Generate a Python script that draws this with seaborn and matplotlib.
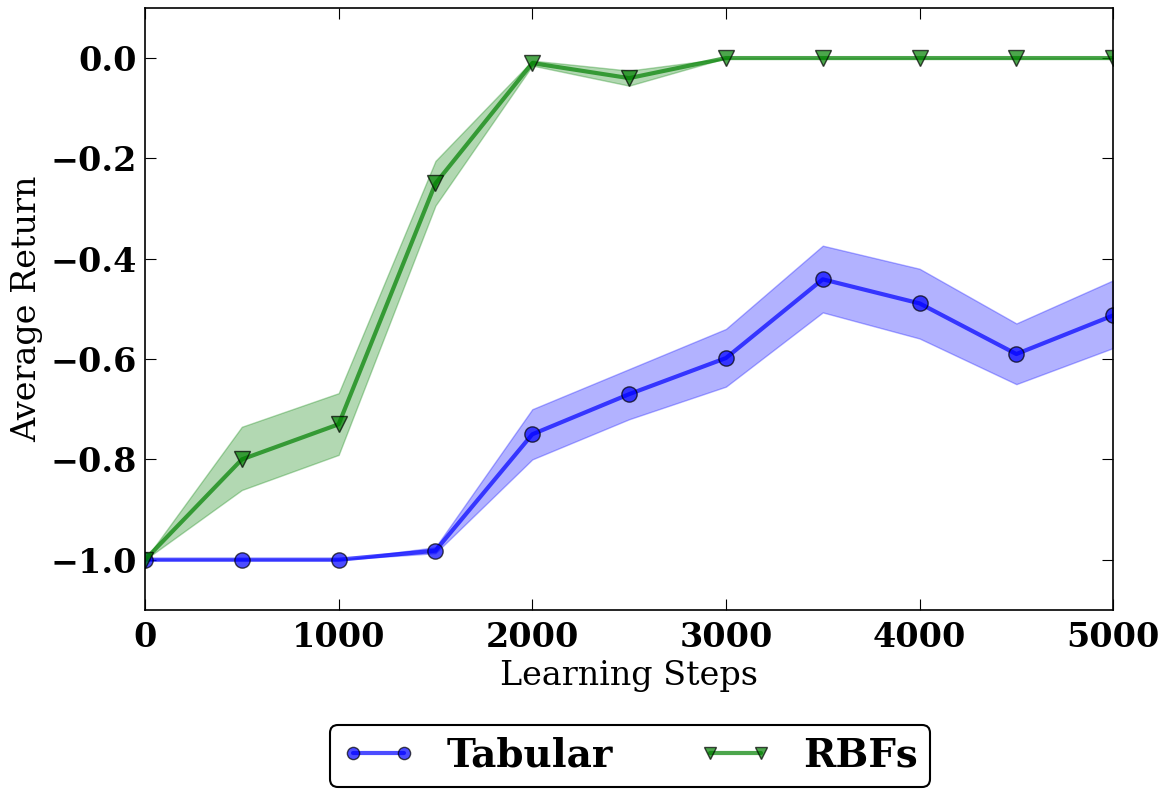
import numpy as np
import pandas as pd
import matplotlib
matplotlib.use("Agg")
import matplotlib.pyplot as plt
import seaborn as sns

# Data
steps = [0, 500, 1000, 1500, 2000, 2500, 3000, 3500, 4000, 4500, 5000]

tabular_mean = [-1.0, -1.0, -1.0, -0.982, -0.75, -0.67, -0.598, -0.441, -0.489, -0.59, -0.513]
tabular_low = [-1.0, -1.0, -1.0, -0.987, -0.80, -0.72, -0.655, -0.507, -0.559, -0.65, -0.578]
tabular_high = [-1.0, -1.0, -1.0, -0.975, -0.70, -0.62, -0.540, -0.374, -0.420, -0.529, -0.443]

rbf_mean = [-1.0, -0.80, -0.73, -0.25, -0.01, -0.04, 0.0, 0.0, 0.0, 0.0, 0.0]
rbf_low = [-1.0, -0.861, -0.791, -0.294, -0.015, -0.055, 0.0, 0.0, 0.0, 0.0, 0.0]
rbf_high = [-1.0, -0.735, -0.668, -0.205, -0.005, -0.025, 0.0, 0.0, 0.0, 0.0, 0.0]

sns.set_style("white", {
    "xtick.direction": "in",
    "ytick.direction": "in",
    "axes.edgecolor": "black",
    "axes.labelcolor": "black",
    "text.color": "black",
    "xtick.color": "black",
    "ytick.color": "black",
    "xtick.bottom": True,
    "xtick.top": True,
    "ytick.left": True,
    "ytick.right": True,
})
plt.rcParams["font.family"] = ["DejaVu Serif"]
plt.rcParams["xtick.major.size"] = 8
plt.rcParams["ytick.major.size"] = 8
plt.rcParams["xtick.major.pad"] = 8
plt.rcParams["ytick.major.pad"] = 6

fig = plt.figure(figsize=(11.62, 7.89), dpi=100)
ax = fig.add_axes([0.1248, 0.227, 0.8332, 0.763])

df = pd.DataFrame({
    "step": steps * 2,
    "ret": tabular_mean + rbf_mean,
    "method": ["Tabular"] * len(steps) + ["RBFs"] * len(steps),
})

colors = {"Tabular": (0, 0, 1), "RBFs": (0, 0.5, 0)}
markers = {"Tabular": "o", "RBFs": "v"}

# shaded bands
ax.fill_between(steps, tabular_low, tabular_high, color=(0, 0, 1), alpha=0.3, lw=1)
ax.fill_between(steps, rbf_low, rbf_high, color=(0, 0.5, 0), alpha=0.3, lw=1)

sns.lineplot(data=df, x="step", y="ret", hue="method", style="method",
             palette=colors, markers=markers, dashes=False, ax=ax,
             linewidth=3, markersize=11, alpha=0.7,
             markeredgecolor="black", markeredgewidth=1)

ax.set_xlim(0, 5000)
ax.set_ylim(-1.1, 0.1)
ax.set_xticks([0, 1000, 2000, 3000, 4000, 5000])
ax.set_yticks([-1.0, -0.8, -0.6, -0.4, -0.2, 0.0])
ax.yaxis.set_major_formatter(matplotlib.ticker.FuncFormatter(lambda v, p: f"{v:.1f}".replace("-", "\u2212")))
for lab in ax.get_xticklabels() + ax.get_yticklabels():
    lab.set_fontsize(24)
    lab.set_fontweight("bold")
for sp in ax.spines.values():
    sp.set_linewidth(1.2)

ax.set_xlabel("Learning Steps", fontsize=24, labelpad=4)
ax.set_ylabel("Average Return", fontsize=24, labelpad=5)

handles, labels = ax.get_legend_handles_labels()
ax.get_legend().remove()
leg = fig.legend(handles, labels, loc="lower center", bbox_to_anchor=(0.542, 0.003),
                 bbox_transform=fig.transFigure, borderaxespad=0,
                 ncol=2, numpoints=2, fancybox=True, frameon=True, markerscale=0.8,
                 prop={"size": 28, "weight": "bold"}, edgecolor="black",
                 handlelength=1.9, columnspacing=2.2, borderpad=0.3)
leg.get_frame().set_linewidth(1.5)
leg.get_frame().set_alpha(1)

fig.savefig("out.png", dpi=100)
